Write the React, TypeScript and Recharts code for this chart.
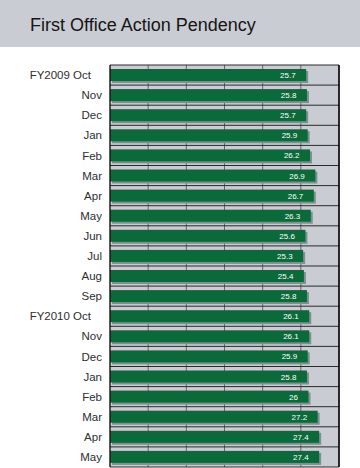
import React from "react";
import { BarChart, Bar, XAxis, YAxis, CartesianGrid, ReferenceLine, LabelList } from "recharts";

// month labels, top to bottom
const months = [
  "FY2009 Oct", "Nov", "Dec", "Jan", "Feb", "Mar", "Apr", "May", "Jun", "Jul", "Aug", "Sep",
  "FY2010 Oct", "Nov", "Dec", "Jan", "Feb", "Mar", "Apr", "May",
];

// pendency in months
const pendency = [
  25.7, 25.8, 25.7, 25.9, 26.2, 26.9, 26.7, 26.3, 25.6, 25.3, 25.4, 25.8,
  26.1, 26.1, 25.9, 25.8, 26, 27.2, 27.4, 27.4,
];

const xTicks = [0, 5, 10, 15, 20, 25, 30];

const chartData = months.map((m, i) => ({ idx: i, label: m, value: pendency[i] }));

const GREEN = "#0b6a3a";
const SHADOW = "#868a91";
const PLOT_BG = "#c9ccd3";

function ShadowBar(props: any) {
  const { x, y, width, height } = props;
  if (width == null || width <= 0) return null;
  return (
    <g>
      <rect x={x + 2} y={y + 2} width={width} height={height} fill={SHADOW} />
      <rect x={x} y={y} width={width} height={height} fill={GREEN} />
    </g>
  );
}

function ValueLabel(props: any) {
  const { x, y, width, height, value } = props;
  return (
    <text
      x={x + width - 10.5}
      y={y + height / 2 + 3}
      textAnchor="end"
      fill="#ffffff"
      fontSize={8}
    >
      {value}
    </text>
  );
}

// fiscal-year labels sit a bit further left than the plain months
function MonthTick(props: any) {
  const { x, y, payload } = props;
  const label = months[payload.value];
  const shift = label.startsWith("FY") ? -11 : 0;
  return (
    <text x={x + shift} y={y} dy="0.355em" textAnchor="end" fill="#2e2e2e" fontSize={11.5}>
      {label}
    </text>
  );
}

export default function App() {
  const rowLines = ({ offset }: any) => {
    const n = months.length;
    const out: number[] = [];
    for (let i = 0; i <= n; i++) out.push(offset.top + (i * offset.height) / n);
    return out;
  };

  return (
    <div
      style={{
        position: "absolute",
        left: 0,
        top: 0,
        width: 360,
        height: 468,
        overflow: "hidden",
        background: "#ffffff",
        fontFamily: "'Liberation Sans', Arial, sans-serif",
      }}
    >
      <div style={{ position: "relative", height: 47, background: "#c9ccd2" }}>
        <span
          style={{
            position: "absolute",
            left: 30,
            top: 15,
            fontSize: 18,
            color: "#151515",
            whiteSpace: "nowrap",
          }}
        >
          First Office Action Pendency
        </span>
      </div>
      <BarChart
        width={360}
        height={425}
        data={chartData}
        layout="vertical"
        margin={{ top: 18, right: 21, bottom: 5, left: 0 }}
      >
        <CartesianGrid fill={PLOT_BG} fillOpacity={1} stroke="#666666" horizontal={false} />
        <CartesianGrid
          stroke="#2a2a2a"
          vertical={false}
          horizontalCoordinatesGenerator={rowLines}
        />
        <XAxis type="number" domain={[0, 30]} ticks={xTicks} hide />
        <YAxis
          type="category"
          dataKey="idx"
          width={110}
          tickLine={false}
          axisLine={{ stroke: "#000000" }}
          tick={<MonthTick />}
          interval={0}
        />
        <ReferenceLine x={30} stroke="#000000" strokeWidth={1.5} />
        <Bar dataKey="value" barSize={12} shape={<ShadowBar />} isAnimationActive={false}>
          <LabelList dataKey="value" content={<ValueLabel />} />
        </Bar>
      </BarChart>
    </div>
  );
}
